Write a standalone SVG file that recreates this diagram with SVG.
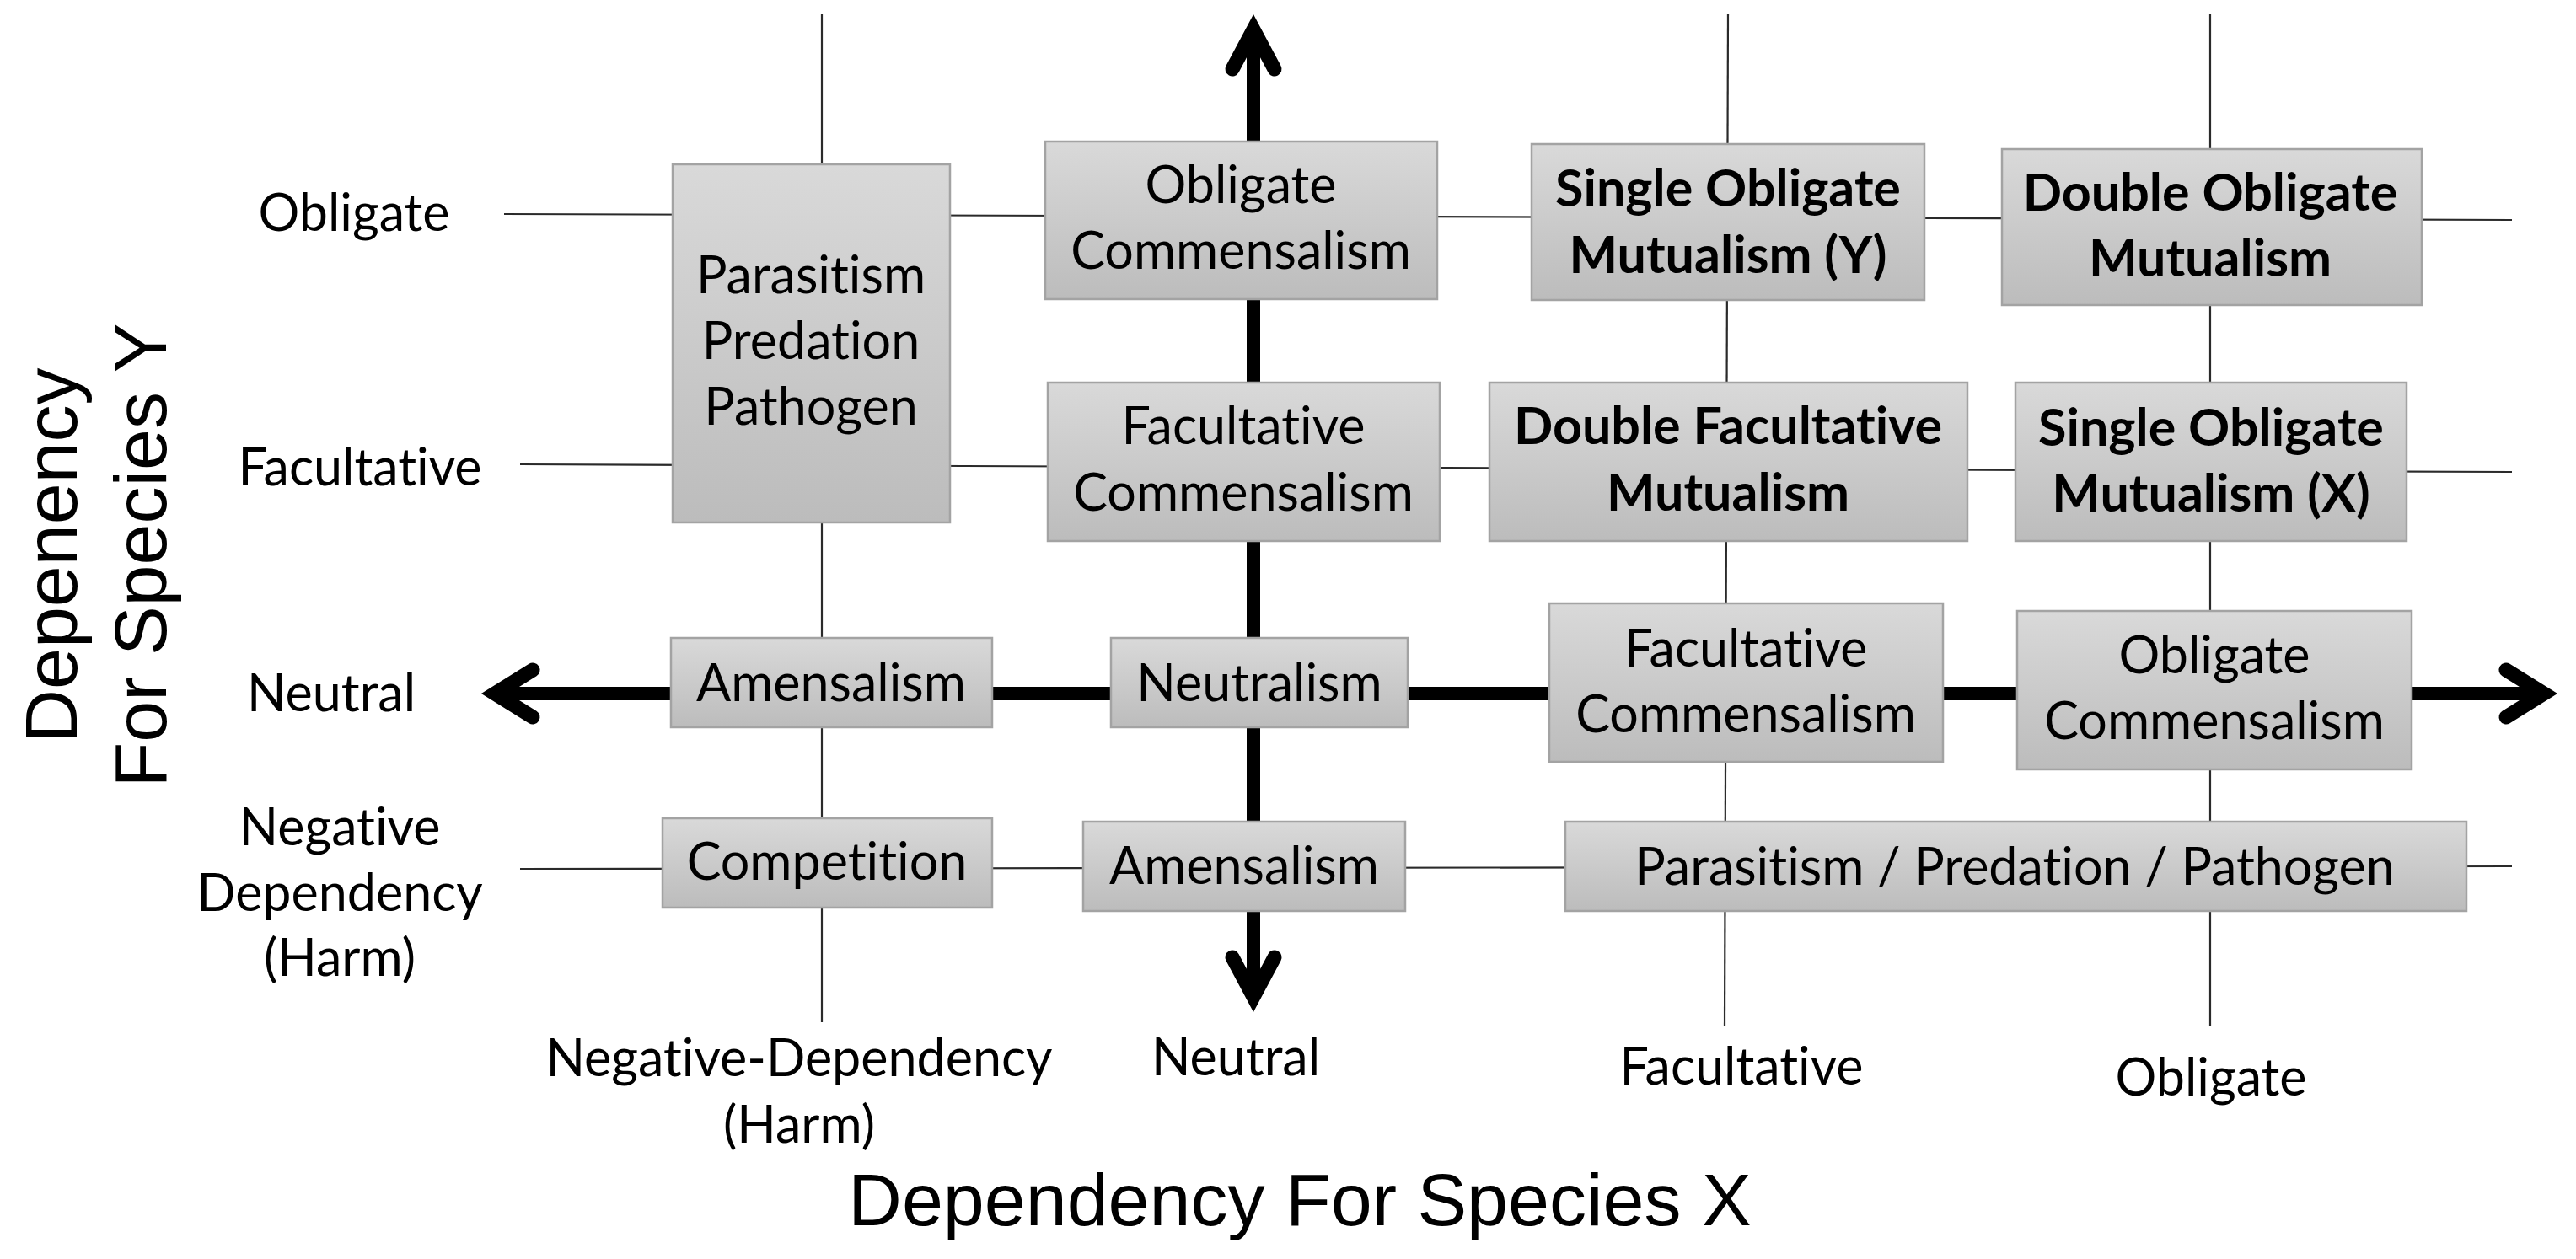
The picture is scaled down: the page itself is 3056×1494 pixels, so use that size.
<svg xmlns="http://www.w3.org/2000/svg" width="3056" height="1494" viewBox="0 0 3056 1494">
<defs>
<linearGradient id="boxfill" x1="0" y1="0" x2="0" y2="1">
<stop offset="0" stop-color="#d9d9d9"/>
<stop offset="1" stop-color="#bcbcbc"/>
</linearGradient>
<style>
.box{fill:url(#boxfill);stroke:#a3a3a3;stroke-width:2.5}
.t{font-family:Lato,"Open Sans","Liberation Sans",sans-serif;font-size:61px;fill:#000;text-anchor:middle;font-variant-ligatures:none}
.b{font-weight:bold}
.thin{stroke:#2a2a2a;stroke-width:2.2;fill:none}
.shaft{stroke:#000;stroke-width:16;fill:none}
.head{stroke:#000;stroke-width:17;fill:none;stroke-linecap:round;stroke-linejoin:miter;stroke-miterlimit:10}
.title{font-family:"Liberation Sans",Arial,sans-serif;font-size:88px;fill:#000;text-anchor:middle}
</style>
</defs>
<rect width="3056" height="1494" fill="#fff"/>

<g id="connectors">
<line class="thin" x1="975" y1="17" x2="975" y2="1213"/>
<line class="thin" x1="2050" y1="17" x2="2046" y2="1217"/>
<line class="thin" x1="2622" y1="17" x2="2622" y2="1217"/>
<line class="thin" x1="598" y1="254" x2="2980" y2="261"/>
<line class="thin" x1="617" y1="551" x2="2980" y2="560"/>
<line class="thin" x1="617" y1="1031" x2="2980" y2="1028"/>
<line class="shaft" x1="590" y1="823" x2="3015" y2="823"/>
<line class="shaft" x1="1487" y1="38" x2="1487" y2="1180"/>
<path class="head" d="M1462 82 L1487 35 L1512 82"/>
<path class="head" d="M1462 1136 L1487 1183 L1512 1136"/>
<path class="head" d="M632 795 L587 823 L632 851"/>
<path class="head" d="M2973 795 L3018 823 L2973 851"/>
</g>

<g id="axis-labels">
<text class="t" x="420" y="274">Obligate</text>
<text class="t" x="427" y="576">Facultative</text>
<text class="t" x="393" y="844">Neutral</text>
<text class="t" x="403" y="1003">Negative</text>
<text class="t" x="403" y="1081">Dependency</text>
<text class="t" x="403" y="1158">(Harm)</text>
<text class="t" x="948" y="1277">Negative-Dependency</text>
<text class="t" x="948" y="1356">(Harm)</text>
<text class="t" x="1466" y="1276">Neutral</text>
<text class="t" x="2066" y="1287">Facultative</text>
<text class="t" x="2623" y="1300">Obligate</text>
<text class="title" x="1542" y="1454">Dependency For Species X</text>
<g transform="translate(0,659) rotate(-90)">
<text class="title" x="0" y="91">Depenency</text>
<text class="title" x="0" y="197">For Species Y</text>
</g>
</g>

<g id="node-parasitism-y">
<rect class="box" x="798" y="195" width="329" height="425"/>
<text class="t" x="962" y="348">Parasitism</text>
<text class="t" x="962" y="426">Predation</text>
<text class="t" x="962" y="504">Pathogen</text>
</g>
<g id="node-obligate-commensalism-y">
<rect class="box" x="1240" y="168" width="465" height="187"/>
<text class="t" x="1472" y="241">Obligate</text>
<text class="t" x="1472" y="319">Commensalism</text>
</g>
<g id="node-single-obligate-y">
<rect class="box" x="1817" y="171" width="466" height="185"/>
<text class="t b" x="2050" y="245">Single Obligate</text>
<text class="t b" x="2050" y="324">Mutualism (Y)</text>
</g>
<g id="node-double-obligate">
<rect class="box" x="2375" y="177" width="498" height="185"/>
<text class="t b" x="2622" y="250">Double Obligate</text>
<text class="t b" x="2622" y="328">Mutualism</text>
</g>
<g id="node-facultative-commensalism-y">
<rect class="box" x="1243" y="454" width="465" height="188"/>
<text class="t" x="1475" y="527">Facultative</text>
<text class="t" x="1475" y="606">Commensalism</text>
</g>
<g id="node-double-facultative">
<rect class="box" x="1767" y="454" width="567" height="188"/>
<text class="t b" x="2050" y="527">Double Facultative</text>
<text class="t b" x="2050" y="606">Mutualism</text>
</g>
<g id="node-single-obligate-x">
<rect class="box" x="2391" y="454" width="464" height="188"/>
<text class="t b" x="2623" y="529">Single Obligate</text>
<text class="t b" x="2623" y="607">Mutualism (X)</text>
</g>
<g id="node-amensalism-x">
<rect class="box" x="796" y="757" width="381" height="106"/>
<text class="t" x="986" y="832">Amensalism</text>
</g>
<g id="node-neutralism">
<rect class="box" x="1318" y="757" width="352" height="106"/>
<text class="t" x="1494" y="832">Neutralism</text>
</g>
<g id="node-facultative-commensalism-x">
<rect class="box" x="1838" y="716" width="467" height="188"/>
<text class="t" x="2071" y="791">Facultative</text>
<text class="t" x="2071" y="869">Commensalism</text>
</g>
<g id="node-obligate-commensalism-x">
<rect class="box" x="2393" y="725" width="468" height="188"/>
<text class="t" x="2627" y="799">Obligate</text>
<text class="t" x="2627" y="877">Commensalism</text>
</g>
<g id="node-competition">
<rect class="box" x="786" y="971" width="391" height="106"/>
<text class="t" x="981" y="1044">Competition</text>
</g>
<g id="node-amensalism-y">
<rect class="box" x="1285" y="975" width="382" height="106"/>
<text class="t" x="1476" y="1049">Amensalism</text>
</g>
<g id="node-parasitism-x">
<rect class="box" x="1857" y="975" width="1069" height="106"/>
<text class="t" x="2390" y="1050">Parasitism / Predation / Pathogen</text>
</g>
</svg>
